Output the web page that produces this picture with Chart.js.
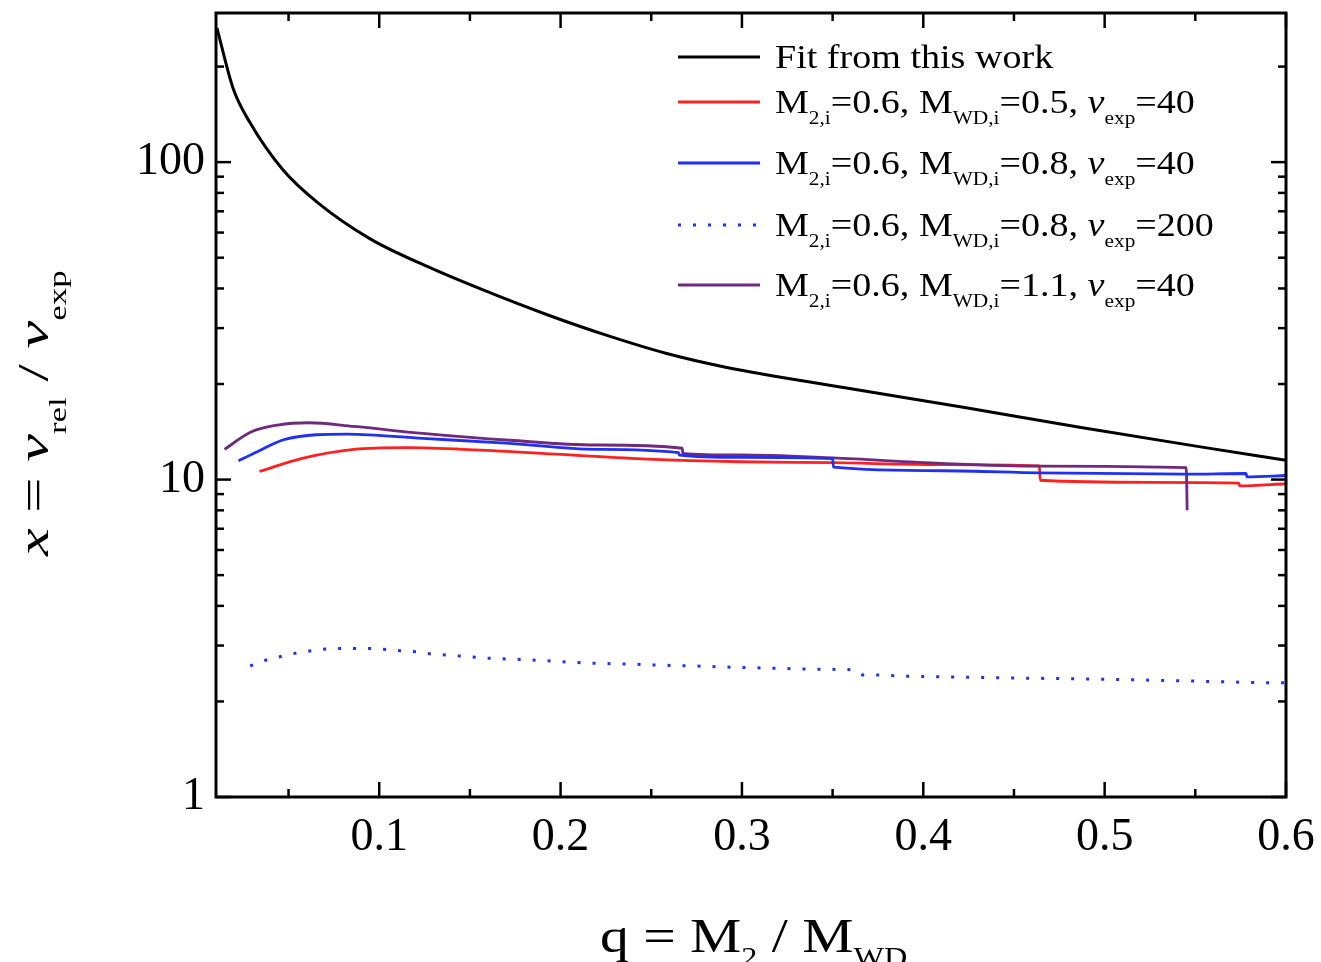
<!DOCTYPE html>
<html>
<head>
<meta charset="utf-8">
<script src="https://cdn.jsdelivr.net/npm/chart.js@4.4.1/dist/chart.umd.min.js"></script>
<style>
  html, body { margin: 0; padding: 0; background: #fff; }
  #wrap { width: 1321px; height: 962px; position: relative; }
</style>
</head>
<body>
<div id="wrap"><canvas id="chart" width="1321" height="962"></canvas></div>
<script>
// values: q = M2/MWD on x, x = v_rel/v_exp on y (log)
const qFit = [0.0105, 0.0194, 0.0288, 0.047, 0.0657, 0.095, 0.128, 0.160, 0.193, 0.226, 0.258, 0.291, 0.356, 0.422, 0.487, 0.552, 0.600];
const xFit = [265, 171, 133, 94.4, 74.8, 57.3, 46.5, 39.0, 33.0, 28.4, 25.0, 22.6, 19.5, 16.9, 14.6, 12.7, 11.5];

const qRed = [0.034, 0.0575, 0.086, 0.115, 0.153, 0.200, 0.248, 0.299, 0.350, 0.410, 0.464, 0.4645, 0.526, 0.574, 0.5745, 0.600];
const xRed = [10.6, 11.66, 12.45, 12.6, 12.4, 12.0, 11.6, 11.38, 11.3, 11.15, 11.05, 9.95, 9.8, 9.75, 9.55, 9.7];

const qBlue = [0.0224, 0.0328, 0.048, 0.0823, 0.124, 0.172, 0.219, 0.265, 0.2655, 0.299, 0.350, 0.3505, 0.411, 0.464, 0.545, 0.578, 0.5785, 0.600];
const xBlue = [11.46, 12.24, 13.39, 13.91, 13.48, 13.0, 12.45, 12.15, 11.95, 11.75, 11.65, 10.94, 10.66, 10.5, 10.4, 10.45, 10.2, 10.3];

const qBlueDot = [0.0289, 0.0365, 0.044, 0.0516, 0.0591, 0.0686, 0.0762, 0.0932, 0.1026, 0.1113, 0.1196, 0.1291, 0.1366, 0.1442, 0.1536, 0.1612, 0.1763, 0.1914, 0.2066, 0.2217, 0.2368, 0.2519, 0.2746, 0.2973, 0.320, 0.3351, 0.3502, 0.3615, 0.3672, 0.3729, 0.388, 0.4258, 0.4636, 0.5014, 0.5392, 0.5921, 0.600];
const xBlueDot = [2.586, 2.688, 2.754, 2.821, 2.869, 2.918, 2.939, 2.939, 2.918, 2.890, 2.869, 2.821, 2.801, 2.781, 2.754, 2.734, 2.714, 2.688, 2.656, 2.636, 2.624, 2.605, 2.586, 2.561, 2.543, 2.530, 2.524, 2.512, 2.423, 2.423, 2.405, 2.382, 2.365, 2.348, 2.325, 2.291, 2.290];

const qPurple = [0.0147, 0.029, 0.044, 0.0613, 0.086, 0.124, 0.172, 0.219, 0.267, 0.2675, 0.299, 0.350, 0.410, 0.464, 0.545, 0.5455];
const xPurple = [12.45, 14.1, 14.85, 15.1, 14.7, 13.98, 13.3, 12.85, 12.55, 12.1, 11.95, 11.7, 11.25, 11.03, 10.9, 8.0];

const xTickValues = [0.1, 0.2, 0.3, 0.4, 0.5, 0.6];
const xMinorValues = [0.05, 0.15, 0.25, 0.35, 0.45, 0.55];
const yTickValues = [1, 10, 100];

// legend rows: [text, style] with style '' | 'sub' | 'it'
const legendRows = [
  [['Fit from this work', '']],
  [['M', ''], ['2,i', 'sub'], ['=0.6, M', ''], ['WD,i', 'sub'], ['=0.5, ', ''], ['v', 'it'], ['exp', 'sub'], ['=40', '']],
  [['M', ''], ['2,i', 'sub'], ['=0.6, M', ''], ['WD,i', 'sub'], ['=0.8, ', ''], ['v', 'it'], ['exp', 'sub'], ['=40', '']],
  [['M', ''], ['2,i', 'sub'], ['=0.6, M', ''], ['WD,i', 'sub'], ['=0.8, ', ''], ['v', 'it'], ['exp', 'sub'], ['=200', '']],
  [['M', ''], ['2,i', 'sub'], ['=0.6, M', ''], ['WD,i', 'sub'], ['=1.1, ', ''], ['v', 'it'], ['exp', 'sub'], ['=40', '']]
];
const xTitle = [['q = M', ''], ['2', 'sub'], [' / M', ''], ['WD', 'sub']];
const yTitle = [['x', 'it'], [' = ', ''], ['v', 'it'], ['rel', 'sub'], [' / ', ''], ['v', 'it'], ['exp', 'sub']];

const FONT = '"Liberation Serif", "Times New Roman", serif';
const toPoints = (qs, xs) => qs.map((q, i) => ({ x: q, y: xs[i] }));

function drawRich(ctx, parts, size, shift = 0.32) {
  let cx = 0;
  parts.forEach(([t, style]) => {
    const sub = style === 'sub';
    const fs = sub ? size * 0.56 : size;
    ctx.font = `${style === 'it' ? 'italic ' : ''}${fs}px ${FONT}`;
    ctx.fillText(t, cx, sub ? size * shift : 0);
    cx += ctx.measureText(t).width;
  });
  return cx;
}

const frameAndText = {
  id: 'frameAndText',
  afterDraw(chart) {
    const { ctx, chartArea: a, scales: { x, y } } = chart;
    ctx.save();
    ctx.strokeStyle = '#000';
    ctx.fillStyle = '#000';
    ctx.lineCap = 'butt';

    const seg = (x1, y1, x2, y2) => { ctx.beginPath(); ctx.moveTo(x1, y1); ctx.lineTo(x2, y2); ctx.stroke(); };
    ctx.lineWidth = 2.5;
    xTickValues.concat(xMinorValues).forEach(v => {
      const len = xTickValues.includes(v) ? 15 : 8;
      const px = x.getPixelForValue(v);
      seg(px, a.bottom, px, a.bottom - len);
      seg(px, a.top, px, a.top + len);
    });
    yTickValues.forEach(dec => {
      for (let m = 1; m <= 9; m++) {
        const v = m * dec;
        if (v > y.max) break;
        const len = m === 1 ? 15 : 8;
        const py = y.getPixelForValue(v);
        seg(a.left, py, a.left + len, py);
        seg(a.right, py, a.right - len, py);
      }
    });
    ctx.lineWidth = 3;
    ctx.strokeRect(a.left, a.top, a.right - a.left, a.bottom - a.top);

    // legend
    const rowLineY = [57, 102, 163, 225, 285];
    chart.data.datasets.forEach((ds, i) => {
      const ly = rowLineY[i];
      ctx.save();
      ctx.strokeStyle = ds.borderColor;
      ctx.lineWidth = ds.borderWidth;
      ctx.setLineDash(ds.borderDash || []);
      seg(678, ly, 760, ly);
      ctx.restore();
      ctx.save();
      ctx.translate(775, ly + 11);
      ctx.scale(1.12, 1);
      drawRich(ctx, legendRows[i], 34, 0.33);
      ctx.restore();
    });

    // axis titles
    ctx.save();
    ctx.translate(600, 952);
    ctx.scale(1.2, 1);
    drawRich(ctx, xTitle, 48, 0.3);
    ctx.restore();

    ctx.save();
    ctx.translate(48, 556);
    ctx.rotate(-Math.PI / 2);
    ctx.scale(1.42, 1);
    drawRich(ctx, yTitle, 44, 0.42);
    ctx.restore();

    ctx.restore();
  }
};

new Chart(document.getElementById('chart'), {
  type: 'line',
  data: {
    datasets: [
      { label: 'Fit from this work', data: toPoints(qFit, xFit), borderColor: '#000000', borderWidth: 3, order: 4 },
      { label: 'M2,i=0.6, MWD,i=0.5, vexp=40', data: toPoints(qRed, xRed), borderColor: '#ff2020', borderWidth: 2.8, order: 3 },
      { label: 'M2,i=0.6, MWD,i=0.8, vexp=40', data: toPoints(qBlue, xBlue), borderColor: '#2030f0', borderWidth: 2.8, order: 1 },
      { label: 'M2,i=0.6, MWD,i=0.8, vexp=200', data: toPoints(qBlueDot, xBlueDot), borderColor: '#2030f0', borderWidth: 3, borderDash: [3, 12], order: 5 },
      { label: 'M2,i=0.6, MWD,i=1.1, vexp=40', data: toPoints(qPurple, xPurple), borderColor: '#6f2a7e', borderWidth: 2.8, order: 2 }
    ]
  },
  options: {
    responsive: false,
    animation: false,
    devicePixelRatio: 1,
    layout: { padding: { top: 13, right: 35, left: 0, bottom: 0 } },
    elements: {
      point: { radius: 0, hoverRadius: 0 },
      line: { cubicInterpolationMode: 'monotone', borderCapStyle: 'butt', fill: false }
    },
    plugins: { legend: { display: false }, tooltip: { enabled: false } },
    scales: {
      x: {
        type: 'linear',
        min: 0.01,
        max: 0.6,
        afterBuildTicks: s => { s.ticks = xTickValues.map(v => ({ value: v })); },
        afterFit: s => { s.height = 165; s.paddingLeft = 0; s.paddingRight = 0; },
        grid: { display: false, drawTicks: false },
        border: { display: false },
        ticks: { color: '#000', padding: 13, maxRotation: 0, autoSkip: false, font: { family: FONT, size: 46 }, callback: v => String(v) }
      },
      y: {
        type: 'logarithmic',
        min: 1,
        max: 295,
        afterBuildTicks: s => { s.ticks = yTickValues.map(v => ({ value: v })); },
        afterFit: s => { s.width = 216; s.paddingTop = 0; s.paddingBottom = 0; },
        grid: { display: false, drawTicks: false },
        border: { display: false },
        ticks: { color: '#000', padding: 11, autoSkip: false, font: { family: FONT, size: 46 }, callback: v => String(v) }
      }
    }
  },
  plugins: [frameAndText]
});
</script>
</body>
</html>
